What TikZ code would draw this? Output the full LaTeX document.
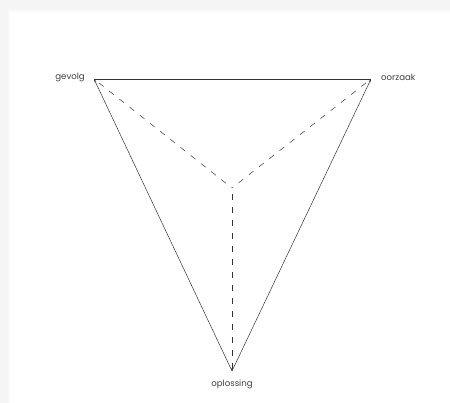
\documentclass[tikz,border=0pt]{standalone}
\usepackage{fontspec}
\setmainfont{Poppins}
\usetikzlibrary{arrows.meta}
\begin{document}
\begin{tikzpicture}[x=1pt,y=-1pt,
  lbl/.style={font=\fontsize{8.6}{10}\selectfont, text=black!75, inner sep=1pt},
  pt/.style={inner sep=0pt, minimum size=0pt},
  side/.style={draw=black!80, line width=0.5pt},
  spoke/.style={draw=black!80, line width=0.5pt, dash pattern=on 6pt off 7pt, dash phase=-6pt},
  tip/.style={-{Stealth[length=3pt,width=2pt]}}]
\useasboundingbox (0,0) rectangle (450,403);
\fill[black!4] (0,0) rectangle (450,403);
\fill[black!2] (8,10) rectangle (450,403);
\fill[white] (10,12) rectangle (450,403);
\node[pt] (g) at (94,79) {};
\node[pt] (o) at (371,79) {};
\node[pt] (p) at (232,371) {};
\coordinate (c) at (232,188);
\node[lbl, anchor=east] (gl) at (86,77.5) {gevolg};
\node[lbl, anchor=west] (ol) at (380,77.5) {oorzaak};
\node[lbl] (pl) at (232,384) {oplossing};
\draw[side] (g) -- (o);
\draw[side,tip] (p) -- (g);
\draw[side,tip] (p) -- (o);
\draw[spoke] (g) -- (c);
\draw[spoke] (o) -- (c);
\draw[spoke,tip] (c) -- (p);
\end{tikzpicture}
\end{document}
